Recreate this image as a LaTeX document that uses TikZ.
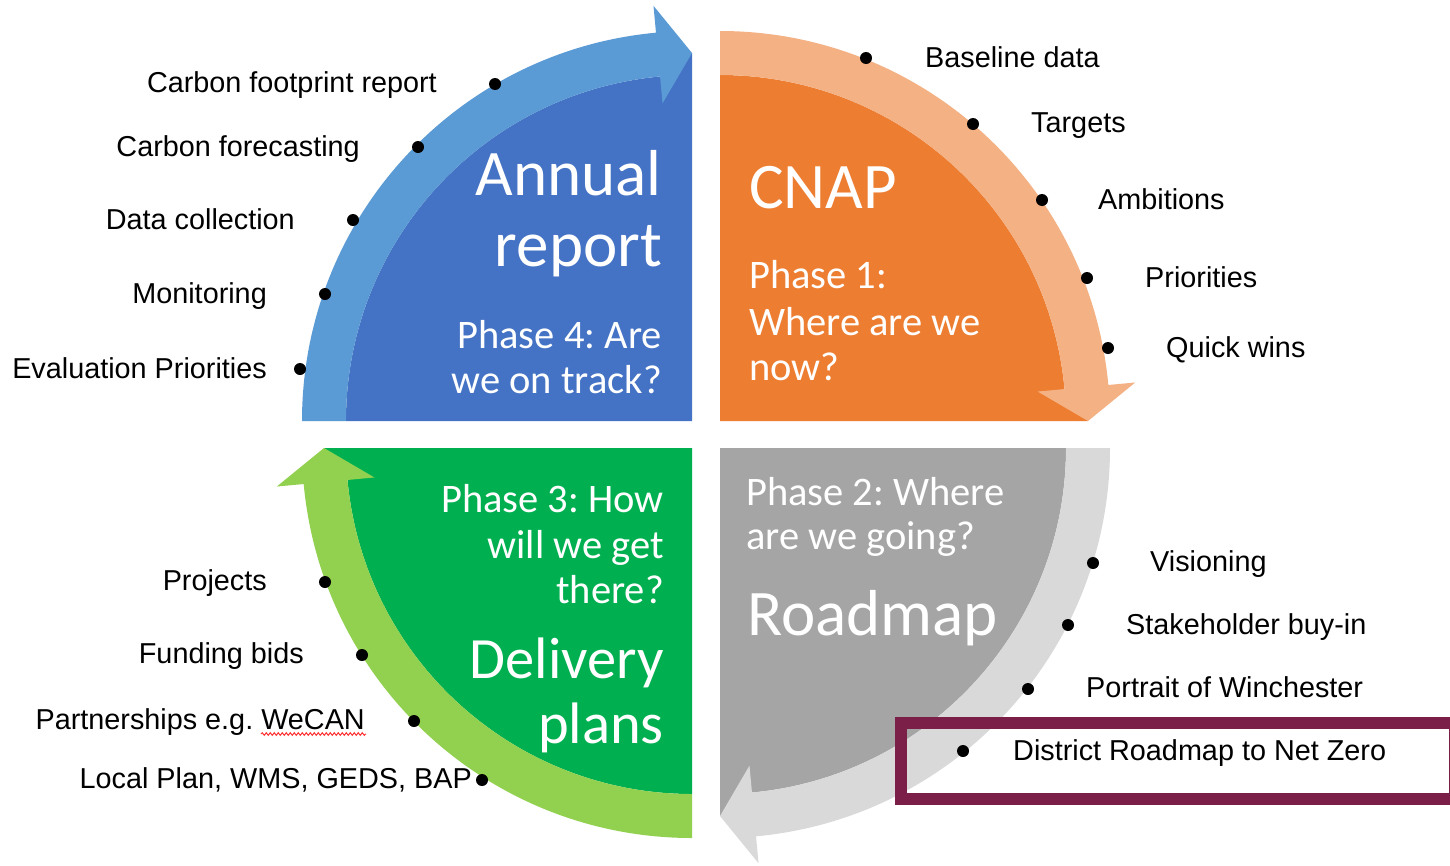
\documentclass[tikz,border=0pt]{standalone}
\usepackage{fontspec}
\setmainfont{Liberation Sans}
\newfontfamily\calib{Carlito}
\usetikzlibrary{decorations.pathmorphing}
\definecolor{bluedark}{HTML}{4472C4}
\definecolor{bluelight}{HTML}{5B9BD5}
\definecolor{orangedark}{HTML}{ED7D31}
\definecolor{orangelight}{HTML}{F4B183}
\definecolor{greendark}{HTML}{00B050}
\definecolor{greenlight}{HTML}{92D050}
\definecolor{graydark}{HTML}{A5A5A5}
\definecolor{graylight}{HTML}{D9D9D9}
\definecolor{maroon}{HTML}{7B1F48}
\tikzset{
  lbl/.style={inner sep=0pt, font=\frenchspacing\fontsize{28.8}{32}\selectfont, text=black},
  bul/.style={circle, fill=black, inner sep=0pt, minimum size=12pt},
  big/.style={inner sep=0pt, text=white, font=\calib\fontsize{65}{70}\selectfont},
  biggreen/.style={inner sep=0pt, text=white, font=\calib\fontsize{58.5}{64}\selectfont},
  phs/.style={inner sep=0pt, text=white, font=\frenchspacing\calib\fontsize{40.5}{46}\selectfont},
  hilite/.style={draw=maroon, line width=12pt}
}
\newcommand\phasequad[5]{%
  \begin{scope}[shift={(#1,#2)}]
    \fill[#4] (0,0) -- (#3:346) arc[start angle=#3, end angle=#3+84.7, radius=346]
      -- (#3+90:368) -- cycle;
    \fill[#5] (#3:346) arc[start angle=#3, end angle=#3+84.7, radius=346]
      -- (#3+84.7:319) -- (#3+90:368) -- (#3+84.7:417) -- (#3+84.7:390)
      arc[start angle=#3+84.7, end angle=#3, radius=390] -- cycle;
  \end{scope}}
\begin{document}
\begin{tikzpicture}[x=1pt, y=-1pt]
\useasboundingbox (0,0) rectangle (1450,865);
\fill[white] (0,0) rectangle (1450,865);

% quadrants
\phasequad{692}{421}{180}{bluedark}{bluelight}
\phasequad{720}{421}{270}{orangedark}{orangelight}
\phasequad{720}{448}{0}{graydark}{graylight}
\phasequad{692}{448}{90}{greendark}{greenlight}

% quadrant texts
\node[big, anchor=base east] (annual) at (662,195) {Annual};
\node[big, anchor=base east] (report) at (662,266) {report};
\node[phs, anchor=base east] (p4a) at (662,348) {Phase 4: Are};
\node[phs, anchor=base east] (p4b) at (662,393) {we on track?};

\node[big, anchor=base west] (cnap) at (749,208) {CNAP};
\node[phs, anchor=base west] (p1a) at (749,288) {Phase 1:};
\node[phs, anchor=base west] (p1b) at (749,335) {Where are we};
\node[phs, anchor=base west] (p1c) at (749,380) {now?};

\node[phs, anchor=base west] (p2a) at (746,505) {Phase 2: Where};
\node[phs, anchor=base west] (p2b) at (746,549) {are we going?};
\node[big, anchor=base west] (roadmap) at (747,635) {Roadmap};

\node[phs, anchor=base east] (p3a) at (664,512) {Phase 3: How};
\node[phs, anchor=base east] (p3b) at (664,558) {will we get};
\node[phs, anchor=base east] (p3c) at (664,603) {there?};
\node[biggreen, anchor=base east] (deliv) at (664,678) {Delivery};
\node[biggreen, anchor=base east] (plans) at (664,743) {plans};

% highlight box
\begin{scope}
  \clip (0,0) rectangle (1450,865);
  \draw[hilite] (901,723) rectangle (1455,799);
\end{scope}

% blue labels
\node[lbl, anchor=base east] (l1) at (437,92) {Carbon footprint report};
\node[lbl, anchor=base east] (l2) at (360,156) {Carbon forecasting};
\node[lbl, anchor=base east] (l3) at (295,229) {Data collection};
\node[lbl, anchor=base east] (l4) at (267,303) {Monitoring};
\node[lbl, anchor=base east] (l5) at (267,378) {Evaluation Priorities};
\node[bul] (b1) at (495,84) {};
\node[bul] (b2) at (418,147) {};
\node[bul] (b3) at (353,220) {};
\node[bul] (b4) at (325,294) {};
\node[bul] (b5) at (300,369) {};

% orange labels
\node[lbl, anchor=base west] (o1) at (925,67) {Baseline data};
\node[lbl, anchor=base west] (o2) at (1031,132) {Targets};
\node[lbl, anchor=base west] (o3) at (1098,209) {Ambitions};
\node[lbl, anchor=base west] (o4) at (1145,287) {Priorities};
\node[lbl, anchor=base west] (o5) at (1166,357) {Quick wins};
\node[bul] (ob1) at (866,58) {};
\node[bul] (ob2) at (973,124) {};
\node[bul] (ob3) at (1042,200) {};
\node[bul] (ob4) at (1087,278) {};
\node[bul] (ob5) at (1108,348) {};

% gray labels
\node[lbl, anchor=base west] (g1) at (1150,571) {Visioning};
\node[lbl, anchor=base west] (g2) at (1126,634) {Stakeholder buy-in};
\node[lbl, anchor=base west] (g3) at (1086,697) {Portrait of Winchester};
\node[lbl, anchor=base west] (g4) at (1013,760) {District Roadmap to Net Zero};
\node[bul] (gb1) at (1093,563) {};
\node[bul] (gb2) at (1068,625) {};
\node[bul] (gb3) at (1028,689) {};
\node[bul] (gb4) at (963,751) {};

% green labels
\node[lbl, anchor=base east] (e1) at (267,590) {Projects};
\node[lbl, anchor=base east] (e2) at (304,663) {Funding bids};
\node[lbl, anchor=base east] (e3) at (365,729) {Partnerships e.g. WeCAN};
\node[lbl, anchor=base east] (e4) at (472,788) {Local Plan, WMS, GEDS, BAP};
\node[bul] (eb1) at (325,582) {};
\node[bul] (eb2) at (362,655) {};
\node[bul] (eb3) at (414,721) {};
\node[bul] (eb4) at (482,780) {};

% spell-check underline
\coordinate (wavyA) at (261,734);
\coordinate (wavyB) at (366,734);
\draw[red!80!white, line width=1pt, decorate, decoration={snake, amplitude=1.3pt, segment length=4pt}] (wavyA) -- (wavyB);
\end{tikzpicture}
\end{document}
